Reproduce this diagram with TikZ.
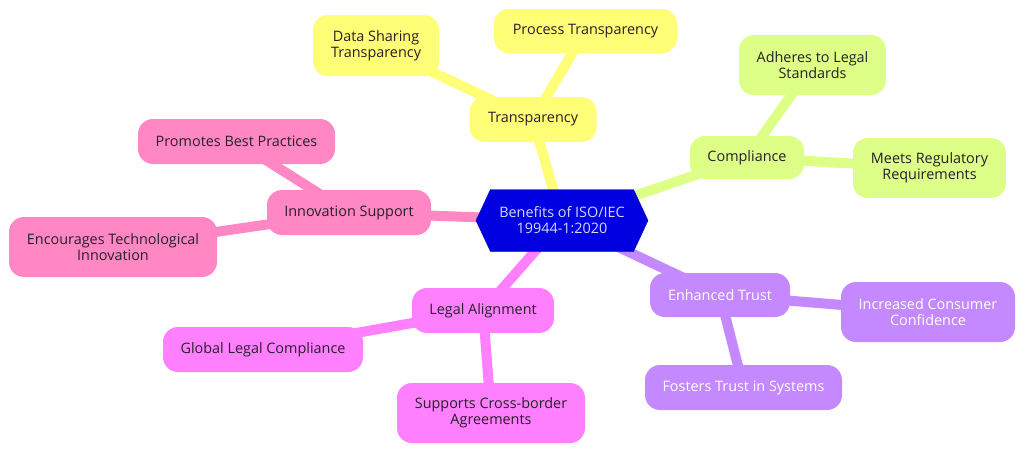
\documentclass[tikz,border=0pt]{standalone}
\usepackage{fontspec}
\setmainfont{Open Sans}
\usetikzlibrary{shapes.symbols,backgrounds}
\definecolor{cyel}{RGB}{255,255,119}
\definecolor{cgrn}{RGB}{221,255,136}
\definecolor{cpnk}{RGB}{255,136,196}
\definecolor{cmag}{RGB}{255,128,255}
\definecolor{cpur}{RGB}{196,136,255}
\definecolor{cblu}{RGB}{0,0,224}
\definecolor{ctxt}{RGB}{40,30,40}
\definecolor{cctr}{RGB}{215,215,255}
\tikzset{
  x=1pt,y=-1pt,
  box/.style={rounded corners=15pt,align=center,inner sep=0pt,font=\fontsize{14.4}{16}\selectfont,text=ctxt},
  yel/.style={box,fill=cyel},
  grn/.style={box,fill=cgrn},
  pnk/.style={box,fill=cpnk},
  mag/.style={box,fill=cmag},
  pur/.style={box,fill=cpur,text=white},
  link/.style={line width=10pt},
}
\begin{document}
\begin{tikzpicture}
\useasboundingbox (0,0) rectangle (1024,453);
\node[signal,signal to=east and west,signal pointer angle=130,fill=cblu,draw=cblu!80!black,
  minimum width=172pt,minimum height=62pt,inner sep=0pt,align=center,text=cctr,
  font=\fontsize{14.4}{16}\selectfont] (c) at (562,220.5) {Benefits of ISO/IEC\\19944-1:2020};
% Transparency
\node[yel,minimum width=127pt,minimum height=45pt] (t) at (533,119.5) {Transparency};
\node[yel,minimum width=126pt,minimum height=61pt] (t1) at (376,45.5) {Data Sharing\\Transparency};
\node[yel,minimum width=183pt,minimum height=44pt] (t2) at (585.5,31) {Process Transparency};
% Compliance
\node[grn,minimum width=114pt,minimum height=43pt] (k) at (747,157.5) {Compliance};
\node[grn,minimum width=147pt,minimum height=60pt] (k1) at (812.5,65) {Adheres to Legal\\Standards};
\node[grn,minimum width=153pt,minimum height=60pt] (k2) at (929.5,168) {Meets Regulatory\\Requirements};
% Innovation
\node[pnk,minimum width=164pt,minimum height=45pt] (i) at (349,212.5) {Innovation Support};
\node[pnk,minimum width=197pt,minimum height=45pt] (i1) at (236.5,141.5) {Promotes Best Practices};
\node[pnk,minimum width=208pt,minimum height=60pt] (i2) at (113,247) {Encourages Technological\\Innovation};
% Trust
\node[pur,minimum width=140pt,minimum height=44pt] (e) at (720,295) {Enhanced Trust};
\node[pur,minimum width=174pt,minimum height=60pt] (e1) at (928,312) {Increased Consumer\\Confidence};
\node[pur,minimum width=197pt,minimum height=45pt] (e2) at (743.5,387.5) {Fosters Trust in Systems};
% Legal
\node[mag,minimum width=142pt,minimum height=45pt] (l) at (483,310.5) {Legal Alignment};
\node[mag,minimum width=200pt,minimum height=45pt] (l1) at (263,349.5) {Global Legal Compliance};
\node[mag,minimum width=188pt,minimum height=60pt] (l2) at (491,413) {Supports Cross-border\\Agreements};
\begin{scope}[on background layer]
\draw[link,cyel] (c.center) -- (t.center) (t.center) -- (t1.center) (t.center) -- (t2.center);
\draw[link,cgrn] (c.center) -- (k.center) (k.center) -- (k1.center) (k.center) -- (k2.center);
\draw[link,cpnk] (c.center) -- (i.center) (i.center) -- (i1.center) (i.center) -- (i2.center);
\draw[link,cpur] (c.center) -- (e.center) (e.center) -- (e1.center) (e.center) -- (e2.center);
\draw[link,cmag] (c.center) -- (l.center) (l.center) -- (l1.center) (l.center) -- (l2.center);
\end{scope}
\end{tikzpicture}
\end{document}
